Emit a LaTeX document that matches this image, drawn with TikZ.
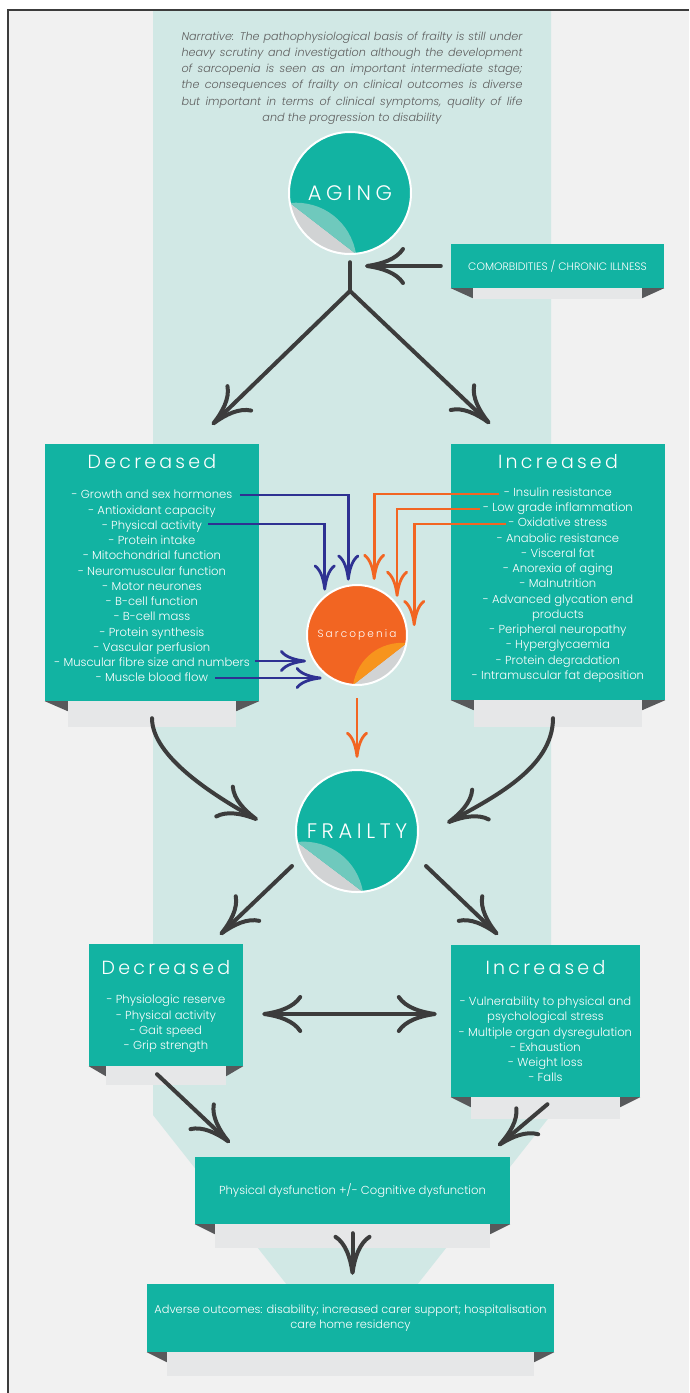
\documentclass[tikz,border=0pt]{standalone}
\usepackage{fontspec}
\IfFontExistsTF{Poppins Light}{%
  \IfFontExistsTF{Poppins Light Italic}%
    {\setmainfont{Poppins Light}[ItalicFont={Poppins Light Italic}]}%
    {\setmainfont{Poppins Light}}}%
  {\IfFontExistsTF{Lato Light}{\setmainfont{Lato Light}}{\setmainfont{Lato}}}
\usetikzlibrary{arrows.meta,calc}
\definecolor{tl}{HTML}{12B3A2}
\definecolor{col}{HTML}{D1E8E5}
\definecolor{pap}{HTML}{F1F1F1}
\definecolor{rib}{HTML}{E6E7E8}
\definecolor{fld}{HTML}{58595B}
\definecolor{ink}{HTML}{3C3C3C}
\definecolor{blu}{HTML}{2E3192}
\definecolor{org}{HTML}{F26522}
\definecolor{sfold}{HTML}{F7941D}
\definecolor{pgray}{HTML}{D1D3D4}
\definecolor{tfold}{HTML}{6FC9BD}
\definecolor{nar}{HTML}{5E5E5E}
\tikzset{
  dtip/.tip={Computer Modern Rightarrow[length=40pt,width=38pt]},
  ctip/.tip={Computer Modern Rightarrow[length=26pt,width=22pt]},
  box/.style={fill=tl,inner sep=0pt},
  ttl/.style={text=white,inner sep=0pt,font=\fontsize{19}{24}\selectfont\addfontfeatures{LetterSpace=17}},
  lst/.style={text=white,inner sep=0pt,align=center,font=\fontsize{11.6}{15.25}\selectfont},
  disc/.style={circle,fill=tl,inner sep=0pt,text=white},
  dk/.style={ink,line width=4pt,line cap=round,-dtip},
  ba/.style={blu,line width=2.8pt,-ctip},
  oa/.style={org,line width=2.8pt,-ctip},
}
% ribbon under a box: node, inset, depth
\newcommand{\ribbon}[3]{%
  \fill[rib] ($(#1.south west)+(#2,0)$) rectangle ($(#1.south east)+(-#2,#3)$);
  \fill[fld] (#1.south west) -- ++(#2,0) -- ++(0,10) -- cycle;
  \fill[fld] (#1.south east) -- ++(-#2,0) -- ++(0,10) -- cycle;}
% peeled corner of a sticker: node, radius, start, end, fold colour
\newcommand{\peel}[5]{%
  \begin{scope}
    \clip (#1.center) circle[radius=#2];
    \fill[pgray] ($(#1.center)+(#3)$) -- ($(#1.center)+(#4)$) -- ($(#1.center)+3*(#3)+3*(#4)$) -- cycle;
  \end{scope}
  \fill[#5] ($(#1.center)+(#3)$) to[bend left=43] ($(#1.center)+(#4)$) -- cycle;
  \draw[white,line width=2pt] (#1.center) circle[radius=#2];}
\newcommand{\jl}[1]{\makebox[341pt][s]{#1}}

\begin{document}
\begin{tikzpicture}[x=1pt,y=-1pt]
\useasboundingbox (0,0) rectangle (689,1393);
% page and backdrop
\fill[pap] (8,10) rectangle (689,1393);
\fill[col] (153,10) -- (551,10) -- (551,1115) -- (413,1290) -- (291,1290) -- (153,1115) -- cycle;
\draw[ink,line width=1.3pt] (689,10) -- (8,10) -- (8,1393);
% narrative
\node[text=nar,align=center,inner sep=0pt,font=\fontsize{11.2}{16.2}\selectfont\itshape] (story) at (352,78) {%
\jl{Narrative: The pathophysiological basis of frailty is still under}\\
\jl{heavy scrutiny and investigation although the development}\\
\jl{of sarcopenia is seen as an important intermediate stage;}\\
\jl{the consequences of frailty on clinical outcomes is diverse}\\
\jl{but important in terms of clinical symptoms, quality of life}\\
and the progression to disability};
% aging
\node[disc,minimum size=122pt,font=\fontsize{21}{26}\selectfont\addfontfeatures{LetterSpace=22}] (aging) at (350,193) {AGING};
\node[box,minimum width=213pt,minimum height=44pt,text=white,font=\fontsize{10.8}{12}\selectfont] (comorb) at (557.5,266) {COMORBIDITIES / CHRONIC ILLNESS};
\coordinate (fork) at (350,291);
% decreased / increased
\node[box,minimum width=214pt,minimum height=257pt] (decA) at (152,572.5) {};
\node[box,minimum width=214pt,minimum height=256pt] (incA) at (558,572) {};
\node[ttl] (decAt) at (152,462) {Decreased};
\node[ttl] (incAt) at (558,462) {Increased};
\node[lst] (decAl) at (152,586) {- Growth and sex hormones\\- Antioxidant capacity\\- Physical activity\\- Protein intake\\- Mitochondrial function\\- Neuromuscular function\\- Motor neurones\\- B-cell function\\- B-cell mass\\- Protein synthesis\\- Vascular perfusion\\- Muscular fibre size and numbers\\- Muscle blood flow};
\node[lst] (incAl) at (558,585) {- Insulin resistance\\- Low grade inflammation\\- Oxidative stress\\- Anabolic resistance\\- Visceral fat\\- Anorexia of aging\\- Malnutrition\\- Advanced glycation end\\products\\- Peripheral neuropathy\\- Hyperglycaemia\\- Protein degradation\\- Intramuscular fat deposition};
% sarcopenia
\node[disc,fill=org,minimum size=100pt,font=\fontsize{10.5}{13}\selectfont\addfontfeatures{LetterSpace=20}] (sarc) at (357,635) {Sarcopenia};
% frailty
\node[disc,minimum size=122pt,font=\fontsize{21}{26}\selectfont\addfontfeatures{LetterSpace=22}] (frailty) at (357,831) {FRAILTY};
% lower boxes
\node[box,minimum width=154pt,minimum height=122pt] (decB) at (166,1005) {};
\node[box,minimum width=189pt,minimum height=152pt] (incB) at (545.5,1021) {};
\node[ttl] (decBt) at (166,968) {Decreased};
\node[ttl] (incBt) at (545.5,968) {Increased};
\node[lst] (decBl) at (166,1024) {- Physiologic reserve\\- Physical activity\\- Gait speed\\- Grip strength};
\node[lst] (incBl) at (545.5,1039.5) {- Vulnerability to physical and\\psychological stress\\- Multiple organ dysregulation\\- Exhaustion\\- Weight loss\\- Falls};
\node[box,minimum width=315pt,minimum height=67pt,text=white,font=\fontsize{11.6}{15}\selectfont] (phys) at (352.5,1190.5) {Physical dysfunction +/- Cognitive dysfunction};
\node[box,minimum width=407pt,minimum height=68pt,text=white,align=center,font=\fontsize{11.4}{15}\selectfont] (adv) at (350.5,1318) {Adverse outcomes: disability; increased carer support; hospitalisation\\care home residency};
% ribbons
\ribbon{comorb}{22}{11}
\ribbon{decA}{23}{26}
\ribbon{incA}{23}{27}
\ribbon{decB}{17}{19}
\ribbon{incB}{20}{22}
\ribbon{phys}{20}{24}
\ribbon{adv}{20}{24}
% peels
\peel{aging}{61pt}{-60,10}{6,61}{tfold}
\peel{sarc}{50pt}{-4,50}{50,8}{sfold}
\peel{frailty}{61pt}{-60,11}{6,61}{tfold}
% aging split
\draw[dk,-,shorten <=8pt] (aging.south) -- (fork);
\draw[dk,shorten <=10pt,shorten >=15pt] (comorb.west) -- (comorb.west -| fork);
\draw[dk] (fork) -- ([shift={(60,-19)}]decA.north);
\draw[dk] (fork) -- ([shift={(-68,-20)}]incA.north);
% into sarcopenia
\coordinate (gsh) at (240,495);
\coordinate (pha) at (208,524);
\coordinate (mfs) at (255,661);
\coordinate (mbf) at (215,678);
\coordinate (ins) at (499,494);
\coordinate (lgi) at (480,509);
\coordinate (oxs) at (506,524);
\draw[ba,shorten >=5pt] (gsh) -| (sarc.100);
\draw[ba,shorten >=6pt] (pha) -| (sarc.130);
\draw[ba,shorten >=8pt] (mfs) -- (mfs -| sarc.211);
\draw[ba,shorten >=8pt] (mbf) -- (mbf -| sarc.237);
\draw[oa,shorten >=8pt] (ins) -| (sarc.70);
\draw[oa,shorten >=8pt] (lgi) -| (sarc.37);
\draw[oa] (oxs) -| ([shift={(7,-9)}]sarc.east);
\draw[oa,shorten <=13pt,shorten >=12pt] (sarc.south) -- (frailty.north);
% into frailty
\draw[dk,shorten <=17pt] (decA.south) .. controls +(0,55) and +(-45,-25) .. ([shift={(-38,-11)}]frailty.west);
\draw[dk] ([shift={(-5,18)}]incA.south) .. controls +(0,50) and +(45,-25) .. ([shift={(29,-8)}]frailty.east);
% out of frailty
\draw[dk] ([shift={(-65,35)}]frailty.center) -- ([shift={(54,-9)}]decB.north);
\draw[dk] ([shift={(69,35)}]frailty.center) -- ([shift={(-47.5,-10)}]incB.north);
\draw[dk,dtip-dtip] ([shift={(19,9)}]decB.east) -- ([shift={(-14,-7)}]incB.west);
% outcomes
\draw[dk] ([shift={(-9,8)}]decB.south) -- ([shift={(35,-14)}]phys.north west);
\draw[dk] ([shift={(2,7)}]incB.south) -- ([shift={(-12,-11)}]phys.north east);
\draw[dk,shorten <=9pt,shorten >=9pt] (phys.south) -- (phys.south |- adv.north);
\end{tikzpicture}
\end{document}
